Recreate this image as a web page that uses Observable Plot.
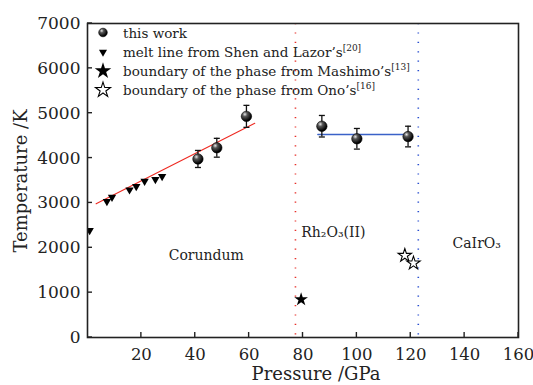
<!DOCTYPE html>
<html><head><meta charset="utf-8">
<script src="https://cdn.jsdelivr.net/npm/d3@7"></script>
<script src="https://cdn.jsdelivr.net/npm/@observablehq/plot@0.6"></script>
<style>body{margin:0;background:#fff} svg, svg text, svg tspan{font-family:"DejaVu Serif",serif !important}</style>
</head><body><div id="chart"></div>
<script>
// ---- data ----
const thisWorkP   = [41, 48, 59, 87, 100, 119];
const thisWorkT   = [3980, 4230, 4930, 4710, 4430, 4480];
const thisWorkErr = [190, 210, 245, 240, 230, 230];
const meltP = [0.8, 7.2, 9.1, 15.6, 18.1, 21.2, 25.2, 27.7];
const meltT = [2385, 3032, 3128, 3293, 3366, 3484, 3522, 3589];
const mashimoP = [79.3];
const mashimoT = [847];
const onoP = [117.8, 121];
const onoT = [1828, 1656];
const fitRedP = [3.2, 62.1];
const fitRedT = [2980, 4777];
const fitBlueP = [85.5, 118.8];
const fitBlueT = [4525, 4525];
const boundaryP = [77.2, 122.8];
const boundaryColor = ["#e8302a", "#2a4fd0"];
const regionNames = ["Corundum", "Rh₂O₃(II)", "CaIrO₃"];
const regionP = [44.1, 91.3, 144.5];
const regionT = [1830, 2350, 2090];
const xTicks = [20, 40, 60, 80, 100, 120, 140, 160];
const yTicks = [0, 1000, 2000, 3000, 4000, 5000, 6000, 7000];

const tw = thisWorkP.map((p, i) => ({p, t: thisWorkT[i], e: thisWorkErr[i]}));
const melt = meltP.map((p, i) => ({p, t: meltT[i]}));
const mash = mashimoP.map((p, i) => ({p, t: mashimoT[i]}));
const ono = onoP.map((p, i) => ({p, t: onoT[i]}));
const red = fitRedP.map((p, i) => ({p, t: fitRedT[i]}));
const blue = fitBlueP.map((p, i) => ({p, t: fitBlueT[i]}));
const bounds = boundaryP.map((p, i) => ({p, c: boundaryColor[i]}));
const regions = regionNames.map((n, i) => ({n, p: regionP[i], t: regionT[i]}));

const triDown = {draw(ctx, size) {
  const a = Math.sqrt(4 * size / Math.sqrt(3)), h = a * Math.sqrt(3) / 2;
  ctx.moveTo(-a / 2, -h / 3); ctx.lineTo(a / 2, -h / 3); ctx.lineTo(0, 2 * h / 3); ctx.closePath();
}};
const capSym = {draw(ctx) { ctx.moveTo(-3, 0); ctx.lineTo(3, 0); }};

const FF = "DejaVu Serif, serif";
const W = 533, H = 385, ML = 87, MR = 15, MT = 23, MB = 48;
const svg = Plot.plot({
  width: W, height: H,
  marginLeft: ML, marginRight: MR, marginTop: MT, marginBottom: MB,
  style: {fontFamily: FF, background: "#fff", color: "#222"},
  x: {domain: [0, 160], label: null},
  y: {domain: [0, 7000], label: null},
  marks: [
    Plot.ruleX(bounds, {x: "p", stroke: "c", strokeWidth: 1.6, strokeDasharray: "1.2,8.2"}),
    Plot.line(red, {x: "p", y: "t", stroke: "#ee2a22", strokeWidth: 1.1}),
    Plot.line(blue, {x: "p", y: "t", stroke: "#3a62c8", strokeWidth: 1.3}),
    Plot.ruleX(tw, {x: "p", y1: d => d.t - d.e, y2: d => d.t + d.e, stroke: "#111", strokeWidth: 1.3}),
    Plot.dot(tw, {x: "p", y: d => d.t + d.e, symbol: capSym, r: 3, stroke: "#111", strokeWidth: 1.3}),
    Plot.dot(tw, {x: "p", y: d => d.t - d.e, symbol: capSym, r: 3, stroke: "#111", strokeWidth: 1.3}),
    Plot.dot(tw, {x: "p", y: "t", r: 5.2, fill: "url(#sphere)", stroke: "#000", strokeWidth: 0.6}),
    Plot.dot(melt, {x: "p", y: "t", symbol: triDown, r: 3.1, fill: "#000", clip: "frame"}),
    Plot.dot(mash, {x: "p", y: "t", symbol: "star", r: 4.3, fill: "#000"}),
    Plot.dot(ono, {x: "p", y: "t", symbol: "star", r: 4.2, fill: "#fff", stroke: "#000", strokeWidth: 1.1}),
    Plot.text(regions, {x: "p", y: "t", text: "n", fontSize: 14, fill: "#222", fontFamily: FF}),
    Plot.axisX(xTicks, {tickSize: 0, tickPadding: 11, fontSize: 16.5, label: null, fontFamily: FF}),
    Plot.axisY(yTicks, {tickSize: 0, tickPadding: 7, fontSize: 17, label: null, tickFormat: d3.format("d"), fontFamily: FF}),
    Plot.frame({stroke: "#222", strokeWidth: 1.6})
  ]
});

const s = d3.select(svg);
const xs = svg.scale("x"), ys = svg.scale("y");
const defs = s.insert("defs", ":first-child");
const g = defs.append("radialGradient").attr("id", "sphere").attr("cx", "35%").attr("cy", "30%").attr("r", "65%");
g.append("stop").attr("offset", "0%").attr("stop-color", "#e8e8e8");
g.append("stop").attr("offset", "35%").attr("stop-color", "#555");
g.append("stop").attr("offset", "100%").attr("stop-color", "#000");

// inward tick marks
const tickG = s.append("g").attr("stroke", "#222").attr("stroke-width", 1.4);
xTicks.forEach(v => { const px = xs.apply(v);
  tickG.append("line").attr("x1", px).attr("x2", px).attr("y1", H - MB).attr("y2", H - MB - 5); });
yTicks.forEach(v => { const py = ys.apply(v);
  tickG.append("line").attr("x1", ML).attr("x2", ML + 5).attr("y1", py).attr("y2", py); });

// axis titles
s.append("text").attr("x", 316).attr("y", 380).attr("text-anchor", "middle")
  .attr("font-size", 18).attr("fill", "#222").text("Pressure /GPa");
s.append("text").attr("transform", "translate(27,181) rotate(-90)").attr("text-anchor", "middle")
  .attr("font-size", 18).attr("fill", "#222").text("Temperature /K");

// legend
const leg = s.append("g").attr("font-size", 13.5).attr("fill", "#222").attr("text-anchor", "start");
const entries = [
  {t: "this work", sup: ""},
  {t: "melt line from Shen and Lazor’s", sup: "[20]"},
  {t: "boundary of the phase from Mashimo’s", sup: "[13]"},
  {t: "boundary of the phase from Ono’s", sup: "[16]"}
];
entries.forEach((e, i) => {
  const y = 32.5 + i * 19.2;
  const tx = leg.append("text").attr("x", 123).attr("y", y + 5);
  tx.append("tspan").text(e.t);
  if (e.sup) tx.append("tspan").attr("dy", -6).attr("font-size", 9).text(e.sup);
});
const symG = s.append("g");
symG.append("circle").attr("cx", 103).attr("cy", 32.5).attr("r", 4.3).attr("fill", "url(#sphere)").attr("stroke", "#000").attr("stroke-width", 0.6);
symG.append("path").attr("d", d3.symbol(triDown, 28)()).attr("transform", "translate(103,52)").attr("fill", "#000");
symG.append("path").attr("d", d3.symbol(d3.symbolStar, 85)()).attr("transform", "translate(103,71)").attr("fill", "#000");
symG.append("path").attr("d", d3.symbol(d3.symbolStar, 70)()).attr("transform", "translate(103,90)").attr("fill", "#fff").attr("stroke", "#000").attr("stroke-width", 1.1);

document.getElementById("chart").appendChild(svg);
</script></body></html>
